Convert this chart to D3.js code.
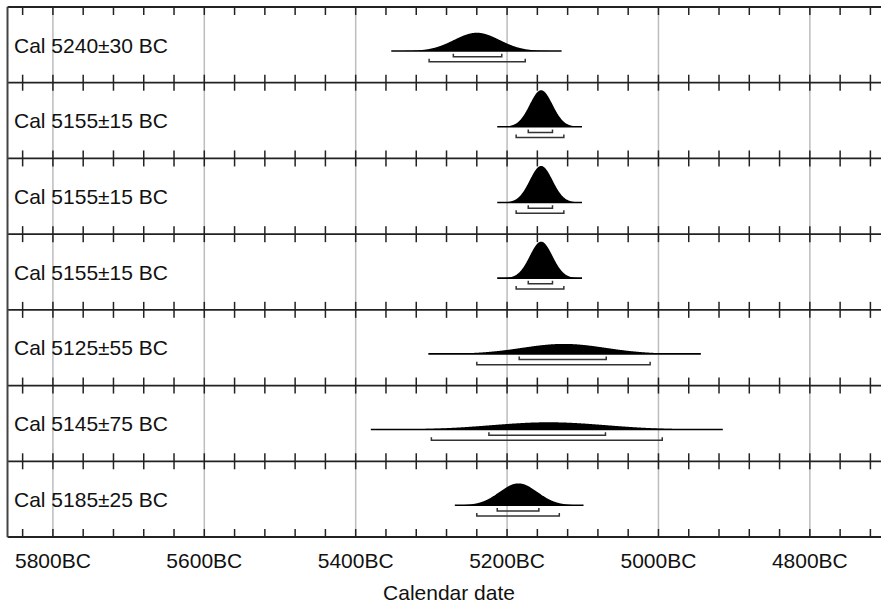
<!DOCTYPE html>
<html>
<head>
<meta charset="utf-8">
<script src="https://cdn.jsdelivr.net/npm/d3@7"></script>
<style>
  html, body { margin: 0; padding: 0; background: #fff; }
  svg { display: block; font-family: "Liberation Sans", Arial, Helvetica, sans-serif; }
</style>
</head>
<body>
<svg id="chart" width="881" height="607"></svg>
<script>
// Calibrated dates: label, mean (BC) and 1-sigma error
const labels = ["Cal 5240±30 BC", "Cal 5155±15 BC", "Cal 5155±15 BC", "Cal 5155±15 BC",
                "Cal 5125±55 BC", "Cal 5145±75 BC", "Cal 5185±25 BC"];
const means  = [5240, 5155, 5155, 5155, 5125, 5145, 5185];
const errors = [30, 15, 15, 15, 55, 75, 25];

// Extent over which each distribution is drawn (years BC)
const spanFrom = [5353, 5213, 5213, 5213, 5304, 5380, 5269];
const spanTo   = [5128, 5101, 5101, 5101, 4944, 4915, 5099];

// 68.2% and 95.4% ranges (years BC)
const r68From = [5271, 5172, 5172, 5172, 5184, 5224, 5213];
const r68To   = [5207, 5140, 5140, 5140, 5069, 5070, 5158];
const r95From = [5303, 5188, 5188, 5188, 5240, 5300, 5240];
const r95To   = [5176, 5125, 5125, 5125, 5011, 4995, 5131];

// Axis
const gridYears  = [5800, 5600, 5400, 5200, 5000, 4800];
const tickLabels = ["5800BC", "5600BC", "5400BC", "5200BC", "5000BC", "4800BC"];
const minorYears = d3.range(5840, 4700, -40);
const axisTitle  = "Calendar date";

const svg = d3.select("#chart");
const plotLeft = 7.5, plotRight = 881, plotTop = 7, plotBottom = 537;
const nRows = labels.length;

const x = d3.scaleLinear().domain([5860, 4706]).range([plotLeft, plotRight]);
const row = d3.scaleLinear().domain([0, nRows]).range([plotTop, plotBottom]);
const h = d3.scaleLinear().domain([0, 1 / (15 * Math.sqrt(2 * Math.PI))]).range([0, 36.5]);

const pdf = (t, m, s) => Math.exp(-0.5 * ((t - m) / s) ** 2) / (s * Math.sqrt(2 * Math.PI));

// vertical grid
svg.append("g").selectAll("line").data(gridYears).join("line")
  .attr("x1", d => x(d)).attr("x2", d => x(d))
  .attr("y1", plotTop).attr("y2", plotBottom)
  .attr("stroke", "#bdbdbd").attr("stroke-width", 1.5);

// row separators with ticks
const sepG = svg.append("g");
d3.range(nRows + 1).forEach(i => {
  const y = row(i);
  sepG.append("line").attr("x1", plotLeft).attr("x2", plotRight).attr("y1", y).attr("y2", y)
    .attr("stroke", "#222").attr("stroke-width", 1.8);
  const up = i === 0 ? 0 : 8;
  const down = i === nRows ? 0 : 8;
  sepG.append("g").selectAll("line").data(minorYears).join("line")
    .attr("x1", d => x(d)).attr("x2", d => x(d))
    .attr("y1", y - up).attr("y2", y + down)
    .attr("stroke", "#222").attr("stroke-width", 1.5);
});

// left border
svg.append("line").attr("x1", plotLeft).attr("x2", plotLeft).attr("y1", plotTop).attr("y2", plotBottom)
  .attr("stroke", "#444").attr("stroke-width", 2);

// distributions and ranges
labels.forEach((lab, i) => {
  const y0 = row(i);
  const base = y0 + 44;
  const g = svg.append("g");
  g.append("text").attr("x", 14).attr("y", y0 + 45.5)
    .attr("font-size", 21).attr("fill", "#111").text(lab);

  const yrs = d3.range(spanFrom[i], spanTo[i] - 0.5, -0.5);
  const area = d3.area()
    .x(d => x(d)).y0(base).y1(d => base - h(pdf(d, means[i], errors[i])));
  g.append("path").datum(yrs).attr("d", area).attr("fill", "#000");
  g.append("line").attr("x1", x(spanFrom[i])).attr("x2", x(spanTo[i]))
    .attr("y1", base).attr("y2", base).attr("stroke", "#000").attr("stroke-width", 1.6);

  const bar = (a, b, yy) => {
    g.append("path")
      .attr("d", `M${x(a)},${yy - 3}V${yy}H${x(b)}V${yy - 3}`)
      .attr("fill", "none").attr("stroke", "#333").attr("stroke-width", 1.5);
  };
  bar(r68From[i], r68To[i], y0 + 49.7);
  bar(r95From[i], r95To[i], y0 + 54.8);
});

// axis labels
svg.append("g").selectAll("text").data(gridYears).join("text")
  .attr("x", d => x(d)).attr("y", 568).attr("text-anchor", "middle")
  .attr("font-size", 21).attr("fill", "#111").text((d, i) => tickLabels[i]);

svg.append("text").attr("x", 449).attr("y", 600).attr("text-anchor", "middle")
  .attr("font-size", 21).attr("fill", "#111").text(axisTitle);
</script>
</body>
</html>
